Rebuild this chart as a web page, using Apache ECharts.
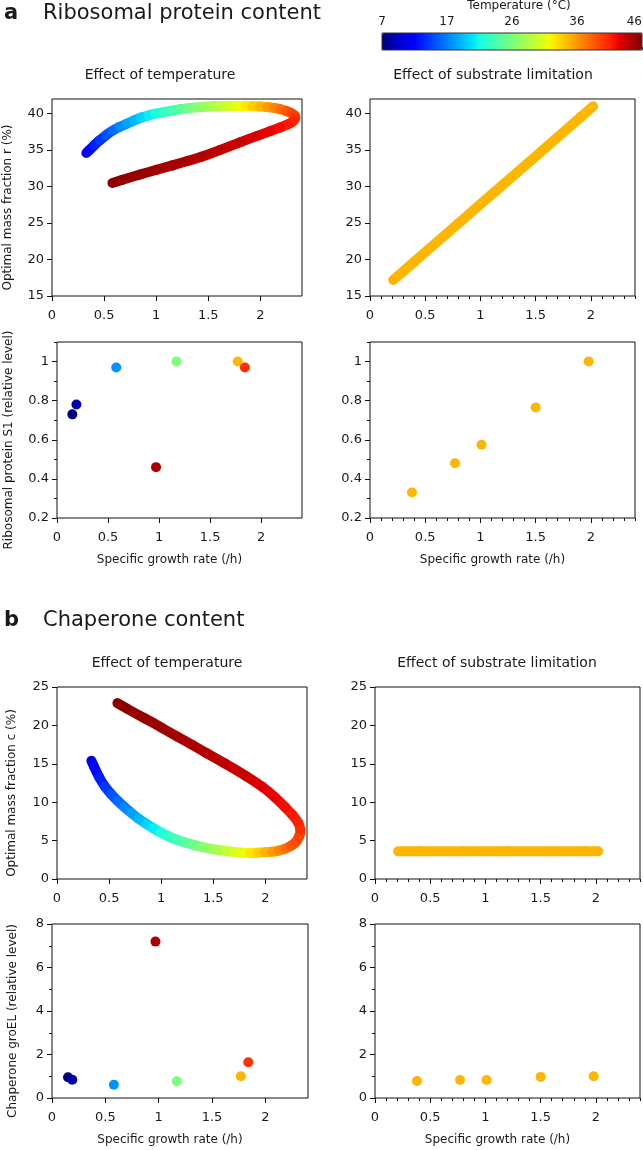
<!DOCTYPE html>
<html><head><meta charset="utf-8">
<script src="https://cdn.jsdelivr.net/npm/echarts@6/dist/echarts.min.js"></script>
<style>html,body{margin:0;padding:0;background:#fff}#c{width:643px;height:1150px}</style>
</head><body><div id="c"></div>
<script>
// ---------------- data ----------------
// model curve, temperature sweep (°C), growth rate (/h), ribosome fraction r (%), chaperone fraction c (%)
const curveTemp = [11,12,13,14,15,16,17,18,19,20,21,22,23,24,25,26,27,28,29,30,31,32,33,34,35,36,37,38,39,39.5,40,
                   40.5,41,41.5,42,42.5,43,43.5,44,44.25,44.5,44.75,45,45.25,45.5];
const curveMu   = [0.33,0.38,0.43,0.49,0.55,0.61,0.68,0.75,0.82,0.89,0.96,1.03,1.11,1.19,1.27,1.35,1.43,1.51,1.59,1.67,1.75,1.82,1.89,1.96,2.03,2.10,2.16,2.22,2.28,2.31,2.34,
                   2.33,2.29,2.23,2.15,2.04,1.90,1.72,1.50,1.37,1.23,1.08,0.93,0.76,0.58];
const curveR    = [34.6,35.3,36.0,36.7,37.4,37.9,38.4,38.8,39.3,39.6,39.9,40.1,40.3,40.5,40.7,40.8,40.9,41.0,41.0,41.05,41.05,41.05,41.0,41.0,40.95,40.85,40.7,40.5,40.2,39.95,39.6,
                   39.1,38.7,38.3,37.9,37.3,36.6,35.6,34.4,33.8,33.2,32.6,32.0,31.3,30.5];
const curveC    = [15.4,13.9,12.6,11.5,10.6,9.8,9.0,8.2,7.5,6.9,6.3,5.8,5.3,4.9,4.6,4.3,4.05,3.85,3.7,3.55,3.45,3.4,3.4,3.45,3.5,3.6,3.8,4.1,4.6,5.1,6.0,
                   7.0,7.9,8.8,9.9,11.3,12.7,14.2,15.9,16.9,18.0,19.1,20.3,21.5,22.9];
// model, substrate limitation at fixed temperature
const subTemp = 35;
const subMu = [0.21,0.6,1.0,1.4,1.8,2.02];
const subR  = [17.2,22.3,27.6,32.8,38.1,41.0];
const subC  = [3.6,3.6,3.6,3.6,3.6,3.6];
// measurements, temperature series
const expTemp  = [7,8.5,17.5,26.5,35,40.5,44.5];
const expMu    = [0.15,0.19,0.58,1.17,1.77,1.84,0.97];
const expS1    = [0.73,0.78,0.97,1.0,1.0,0.97,0.46];
const expGroEL = [0.95,0.84,0.61,0.77,1.0,1.64,7.19];
// measurements, substrate limitation series
const subExpMu    = [0.38,0.77,1.01,1.50,1.98];
const subExpS1    = [0.33,0.48,0.575,0.765,1.0];
const subExpGroEL = [0.78,0.83,0.83,0.97,1.0];
// tick labels
const xTicks = [0,0.5,1,1.5,2];
const rTicks = [15,20,25,30,35,40];
const s1Ticks = [0.2,0.4,0.6,0.8,1];
const cTicks = [0,5,10,15,20,25];
const groTicks = [0,2,4,6,8];
const tempTickLabels = ['7','17','26','36','46'];
const tempMin = 7, tempMax = 46;

// ---------------- styling helpers ----------------
const FONT = 'DejaVu Sans';
const TXT = '#1a1a1a';
const AX = '#111';

// jet colormap stops
const JET_R=[[0,0],[0.35,0],[0.66,1],[0.89,1],[1,0.5]];
const JET_G=[[0,0],[0.125,0],[0.375,1],[0.64,1],[0.91,0],[1,0]];
const JET_B=[[0,0.5],[0.11,1],[0.34,1],[0.65,0],[1,0]];
function seg(stops,x){for(let k=1;k<stops.length;k++){if(x<=stops[k][0]){const a=stops[k-1],b=stops[k];return a[1]+(b[1]-a[1])*(x-a[0])/(b[0]-a[0]);}}return stops[stops.length-1][1];}
const jetColors=[];
for(let k=0;k<=120;k++){const x=k/120;jetColors.push('rgb('+Math.round(255*seg(JET_R,x))+','+Math.round(255*seg(JET_G,x))+','+Math.round(255*seg(JET_B,x))+')');}

const grids = [
  {left:52, top:99, width:250, height:197},
  {left:370,top:99, width:265, height:197},
  {left:57, top:342,width:245, height:176},
  {left:370,top:342,width:265, height:176},
  {left:57, top:687,width:250, height:192},
  {left:375,top:687,width:265, height:192},
  {left:52, top:924,width:256, height:174},
  {left:375,top:924,width:265, height:174}
].map(g=>Object.assign({show:true,borderColor:AX,borderWidth:1,backgroundColor:'transparent',outerBoundsMode:'none'},g));
grids.push({left:382,top:33,width:260,height:17,show:true,borderColor:'#333',borderWidth:1,backgroundColor:'transparent',z:10,outerBoundsMode:'none'});

function mainAxis(dim,grid,min,max,interval,ticks,extra){
  return Object.assign({
    type:'value',gridIndex:grid,min:min,max:max,interval:interval,
    position: dim==='x'?'bottom':'left',
    axisLine:{show:false},
    axisTick:{show:true,inside:false,length:5,lineStyle:{color:AX,width:1},customValues:ticks},
    axisLabel:{show:true,customValues:ticks,color:TXT,fontSize:13,fontFamily:FONT,margin:dim==='x'?13:8},
    splitLine:{show:false},
    nameTextStyle:{fontFamily:FONT,fontSize:12,color:TXT},
    nameMoveOverlap:false
  },extra||{});
}
function minorAxis(dim,grid,min,max,interval){
  return {type:'value',gridIndex:grid,min:min,max:max,interval:interval,position:dim==='x'?'bottom':'left',
    axisLine:{show:false},axisTick:{show:true,inside:false,length:3,lineStyle:{color:AX,width:1}},
    axisLabel:{show:false},splitLine:{show:false}};
}
const xName = {name:'Specific growth rate (/h)',nameLocation:'middle',nameGap:36,
  nameTextStyle:{fontFamily:FONT,fontSize:12,color:TXT,padding:[0,20,0,0]}};
function yName(txt,gap){return {name:txt,nameLocation:'middle',nameGap:gap,nameRotate:90,
  nameTextStyle:{fontFamily:FONT,fontSize:12,color:TXT,padding:[0,20,0,0]}};}

const xAxis = [
  mainAxis('x',0,0,2.4,0.5,xTicks),
  mainAxis('x',1,0,2.4,0.5,xTicks),
  mainAxis('x',2,0,2.4,0.5,xTicks,xName),
  mainAxis('x',3,0,2.4,0.5,xTicks,xName),
  mainAxis('x',4,0,2.4,0.5,xTicks),
  mainAxis('x',5,0,2.4,0.5,xTicks),
  mainAxis('x',6,0,2.4,0.5,xTicks,xName),
  mainAxis('x',7,0,2.4,0.5,xTicks,xName),
  minorAxis('x',1,0,2.4,0.1),
  minorAxis('x',3,0,2.4,0.1),
  minorAxis('x',5,0,2.4,0.1),
  minorAxis('x',7,0,2.4,0.1),
  {type:'value',gridIndex:8,position:'top',min:0,max:4,interval:1,
   axisLine:{show:false},axisTick:{show:true,length:3,lineStyle:{color:'#333'}},
   axisLabel:{color:TXT,fontSize:12,fontFamily:FONT,margin:5,alignMaxLabel:'right',
     formatter:v=>tempTickLabels[Math.round(v)]},
   splitLine:{show:false}}
];
const yAxis = [
  mainAxis('y',0,15,42,5,rTicks,yName('Optimal mass fraction r (%)',38)),
  mainAxis('y',1,15,42,5,rTicks),
  mainAxis('y',2,0.2,1.1,0.2,s1Ticks,yName('Ribosomal protein S1 (relative level)',42)),
  mainAxis('y',3,0.2,1.1,0.2,s1Ticks),
  mainAxis('y',4,0,25,5,cTicks,yName('Optimal mass fraction c (%)',39)),
  mainAxis('y',5,0,25,5,cTicks),
  mainAxis('y',6,0,8,2,groTicks,yName('Chaperone groEL (relative level)',33)),
  mainAxis('y',7,0,8,2,groTicks),
  minorAxis('y',2,0.2,1.1,0.1),
  minorAxis('y',3,0.2,1.1,0.1),
  minorAxis('y',6,0,8,1),
  minorAxis('y',7,0,8,1),
  {type:'value',gridIndex:8,min:0,max:1,show:false}
];

// thick, temperature-coloured model curves drawn through the axes' coordinate system
// (each item: quadratic piece from the mid-point with its predecessor to the mid-point with its successor)
function curveRenderer(xs,ys){
  return function(params,api){
    const i=params.dataIndex,n=xs.length;
    const p=api.coord([xs[i],ys[i]]);
    const mid=j=>{const q=api.coord([xs[j],ys[j]]);return [(p[0]+q[0])/2,(p[1]+q[1])/2];};
    const a=i>0?mid(i-1):p, b=i<n-1?mid(i+1):p;
    return {type:'bezierCurve',
      shape:{x1:a[0],y1:a[1],x2:b[0],y2:b[1],cpx1:p[0],cpy1:p[1]},
      style:{stroke:api.visual('color'),lineWidth:10,lineCap:'round',fill:null}};
  };
}
function zip3(a,b,c){return a.map((v,i)=>[v,b[i],Array.isArray(c)?c[i]:c]);}
function curveSeries(idx,xs,ys,ts){
  return {type:'custom',coordinateSystem:'cartesian2d',xAxisIndex:idx,yAxisIndex:idx,
    data:zip3(xs,ys,ts),encode:{x:0,y:1},renderItem:curveRenderer(xs,ys),silent:true};
}
function dotSeries(idx,xs,ys,ts){
  return {type:'scatter',xAxisIndex:idx,yAxisIndex:idx,data:zip3(xs,ys,ts),symbol:'circle',symbolSize:10,
    itemStyle:{opacity:1},silent:true};
}
const series = [
  curveSeries(0,curveMu,curveR,curveTemp),
  curveSeries(1,subMu,subR,subTemp),
  dotSeries(2,expMu,expS1,expTemp),
  dotSeries(3,subExpMu,subExpS1,subTemp),
  curveSeries(4,curveMu,curveC,curveTemp),
  curveSeries(5,subMu,subC,subTemp),
  dotSeries(6,expMu,expGroEL,expTemp),
  dotSeries(7,subExpMu,subExpGroEL,subTemp)
];

function txt(x,y,s,size,opt){
  return {type:'text',x:x,y:y,silent:true,
    style:{text:s,font:(opt&&opt.bold?'bold ':'')+size+'px "'+FONT+'"',fill:TXT,
      align:(opt&&opt.align)||'left',verticalAlign:'middle'}};
}
const graphics = [
  txt(4,14,'a',21,{bold:true}),
  txt(43,14,'Ribosomal protein content',21),
  txt(4,621,'b',21,{bold:true}),
  txt(43,621,'Chaperone content',21),
  txt(160,75,'Effect of temperature',14,{align:'center'}),
  txt(493,75,'Effect of substrate limitation',14,{align:'center'}),
  txt(167,663,'Effect of temperature',14,{align:'center'}),
  txt(497,663,'Effect of substrate limitation',14,{align:'center'}),
  txt(519,6,'Temperature (°C)',12,{align:'center'})
];

const chart = echarts.init(document.getElementById('c'),null,{renderer:'canvas'});
chart.setOption({
  animation:false,
  backgroundColor:'#fff',
  textStyle:{fontFamily:FONT},
  grid:grids,
  xAxis:xAxis,
  yAxis:yAxis,
  visualMap:{type:'continuous',min:tempMin,max:tempMax,dimension:2,seriesIndex:[0,1,2,3,4,5,6,7],
    orient:'horizontal',left:382,top:33,itemWidth:17,itemHeight:260,calculable:false,hoverLink:false,
    padding:0,showLabel:false,inRange:{color:jetColors}},
  series:series,
  graphic:graphics
});
</script></body></html>
